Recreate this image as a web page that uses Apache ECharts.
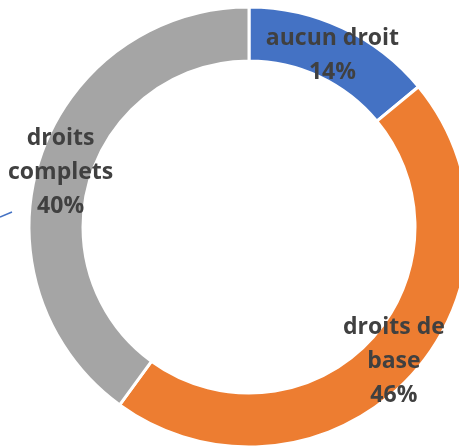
<!DOCTYPE html>
<html>
<head>
<meta charset="utf-8">
<script src="https://cdn.jsdelivr.net/npm/echarts@6/dist/echarts.min.js"></script>
<style>
  html, body { margin: 0; padding: 0; background: #fff; }
  #chart { width: 459px; height: 446px; }
</style>
</head>
<body>
<div id="chart"></div>
<script>
  // catégories (avec retours à la ligne comme dans l'original)
  var categories = ['aucun droit', 'droits de\nbase', 'droits\ncomplets']
  var values = [14, 46, 40]
  var colors = ['#4472C4', '#ED7D31', '#A5A5A5']
  // petit décalage des étiquettes pour coller au rendu d'origine
  var labelOffsets = [[0, 6], [2, 0], [-2, 6]]

  var chart = echarts.init(document.getElementById('chart'))
  var data = []
  categories.forEach(function (name, i) {
    data.push({
      name: name,
      value: values[i],
      itemStyle: { color: colors[i] },
      label: { offset: labelOffsets[i] },
    })
  })

  var option = {
    animation: false,
    series: [
      {
        type: 'pie',
        center: [249, 227],
        radius: [166, 220],
        startAngle: 90,
        clockwise: true,
        silent: true,
        itemStyle: { borderColor: '#fff', borderWidth: 3 },
        label: {
          show: true,
          position: 'inside',
          formatter: '{b}\n{d}%',
          color: '#404040',
          fontFamily: 'Open Sans',
          fontWeight: 'bold',
          fontSize: 23,
          lineHeight: 34,
        },
        labelLine: { show: false },
        data: data,
      },
    ],
    // petit trait bleu résiduel à gauche
    graphic: [
      {
        type: 'line',
        shape: { x1: 0, y1: 217, x2: 12, y2: 212 },
        style: { stroke: '#4472C4', lineWidth: 1.5 },
      },
    ],
  }
  chart.setOption(option)
</script>
</body>
</html>
